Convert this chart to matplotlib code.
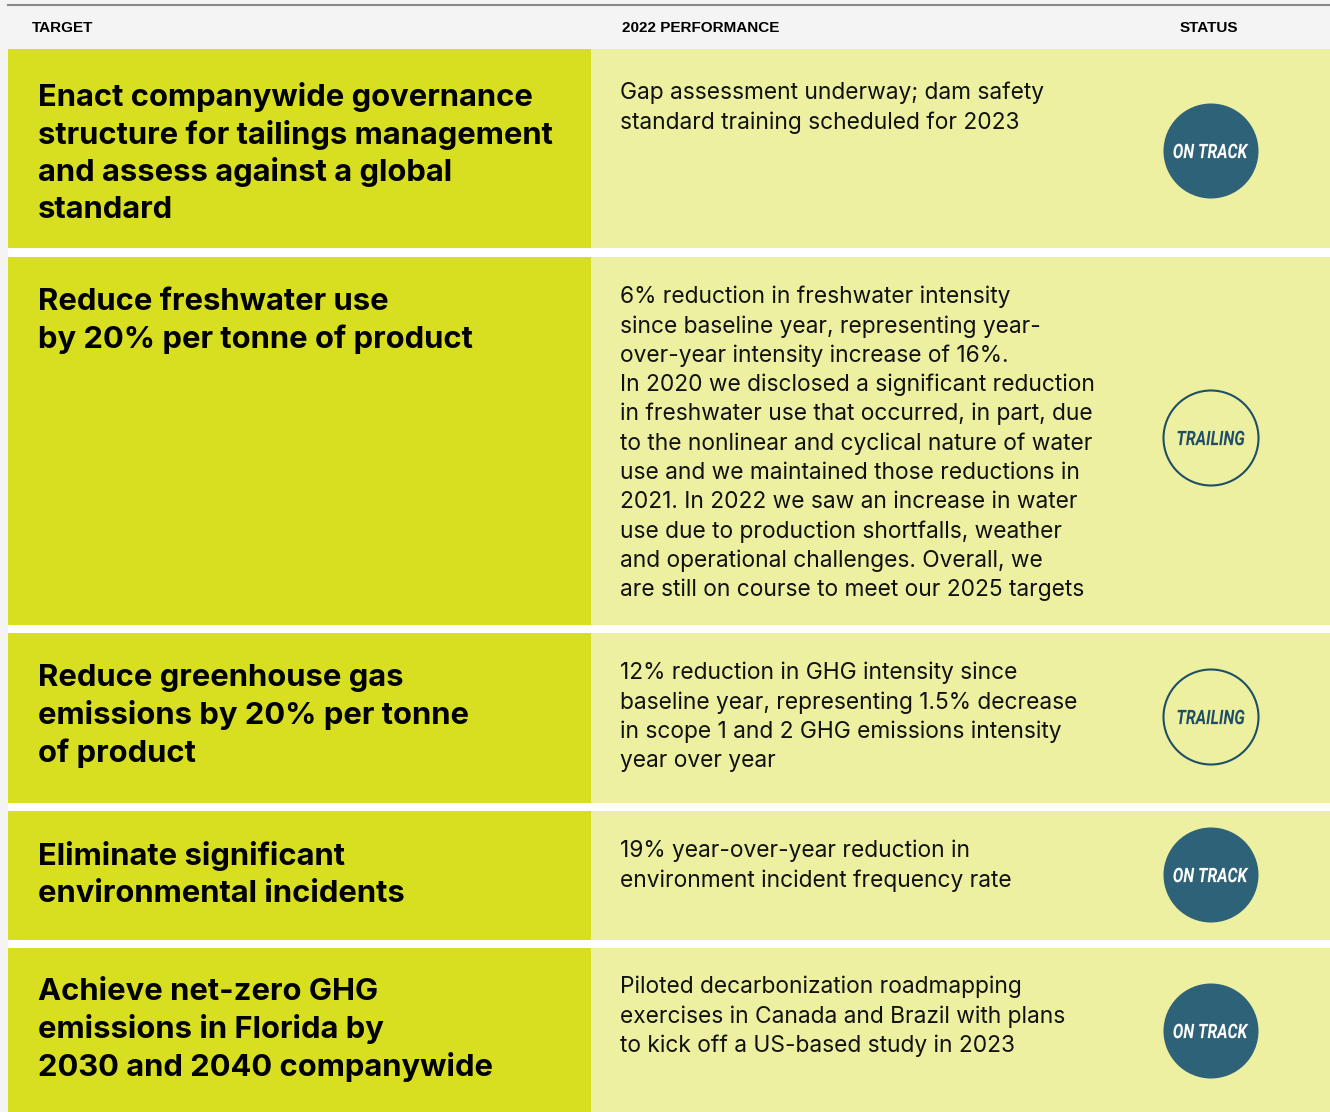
import matplotlib.pyplot as plt
from matplotlib.patches import Rectangle, Circle, PathPatch
from matplotlib.textpath import TextPath
from matplotlib.font_manager import FontProperties
from matplotlib.transforms import Affine2D

# table content
headers = ["TARGET", "2022 PERFORMANCE", "STATUS"]
targets = [
    ["Enact companywide governance", "structure for tailings management",
     "and assess against a global", "standard"],
    ["Reduce freshwater use", "by 20% per tonne of product"],
    ["Reduce greenhouse gas", "emissions by 20% per tonne", "of product"],
    ["Eliminate significant", "environmental incidents"],
    ["Achieve net-zero GHG", "emissions in Florida by", "2030 and 2040 companywide"],
]
performance = [
    ["Gap assessment underway; dam safety", "standard training scheduled for 2023"],
    ["6% reduction in freshwater intensity",
     "since baseline year, representing year-",
     "over-year intensity increase of 16%.",
     "In 2020 we disclosed a significant reduction",
     "in freshwater use that occurred, in part, due",
     "to the nonlinear and cyclical nature of water",
     "use and we maintained those reductions in",
     "2021. In 2022 we saw an increase in water",
     "use due to production shortfalls, weather",
     "and operational challenges. Overall, we",
     "are still on course to meet our 2025 targets"],
    ["12% reduction in GHG intensity since",
     "baseline year, representing 1.5% decrease",
     "in scope 1 and 2 GHG emissions intensity",
     "year over year"],
    ["19% year-over-year reduction in",
     "environment incident frequency rate"],
    ["Piloted decarbonization roadmapping",
     "exercises in Canada and Brazil with plans",
     "to kick off a US-based study in 2023"],
]
status = ["ON TRACK", "TRAILING", "TRAILING", "ON TRACK", "ON TRACK"]

# layout (pixels)
W, H = 1330, 1112
row_tops = [49, 257, 633, 811, 948]
row_bots = [248, 625, 803, 940, 1112]
target_y0 = [97, 302, 678, 856, 992]
perf_y0 = [93, 297, 673, 851, 987]
badge_y = [151, 438, 717, 875, 1031]
lime = "#d7df20"
pale = "#eef0a1"
teal = "#2e6278"

fig = plt.figure(figsize=(W / 100, H / 100), dpi=100)
ax = fig.add_axes([0, 0, 1, 1])
ax.set_xlim(0, W)
ax.set_ylim(H, 0)
ax.axis("off")
fig.patch.set_facecolor("#f4f4f4")

ax.plot([8, W], [5, 5], color="#8a8a8a", lw=1.5)
for t, b in zip(row_tops[1:], row_bots[:-1]):
    ax.add_patch(Rectangle((8, b), W - 8, t - b, color="white", lw=0))

hfont = dict(family="Liberation Sans", weight="bold", fontsize=11, va="center")
ax.text(32, 28, headers[0], ha="left", **hfont)
ax.text(622, 28, headers[1], ha="left", **hfont)
ax.text(1209, 28, headers[2], ha="center", **hfont)

badge_fp = FontProperties(family="Roboto", weight="bold", style="italic")


def badge_label(label, cx, cy, color, width):
    # condensed look: squeeze the glyph outline horizontally
    tp = TextPath((0, 0), label, size=20, prop=badge_fp)
    ext = tp.get_extents()
    sx = width / ext.width
    tr = (Affine2D().translate(-(ext.x0 + ext.width / 2), -(ext.y0 + ext.height / 2))
          .scale(sx, -1).translate(cx, cy))
    ax.add_patch(PathPatch(tr.transform_path(tp), color=color, lw=0))


for i in range(len(targets)):
    top, bot = row_tops[i], row_bots[i]
    ax.add_patch(Rectangle((8, top), 583, bot - top, color=lime, lw=0))
    ax.add_patch(Rectangle((591, top), W - 591, bot - top, color=pale, lw=0))
    for j, line in enumerate(targets[i]):
        ax.text(38, target_y0[i] + j * 37.5, line, ha="left", va="center",
                family="Inter", weight="bold", fontsize=22.3, color="black")
    for j, line in enumerate(performance[i]):
        ax.text(620, perf_y0[i] + j * 29.3, line, ha="left", va="center",
                family="Inter", fontsize=16.4, color="#111111")
    cy = badge_y[i]
    if status[i] == "ON TRACK":
        ax.add_patch(Circle((1211, cy), 47.5, color=teal, lw=0))
        badge_label(status[i], 1211, cy, "white", 75)
    else:
        ax.add_patch(Circle((1211, cy), 47.5, facecolor="none",
                            edgecolor="#1f4f66", lw=1.5))
        badge_label(status[i], 1211, cy, "#1f4f66", 67)

fig.savefig("out.png", dpi=100, facecolor=fig.get_facecolor())
